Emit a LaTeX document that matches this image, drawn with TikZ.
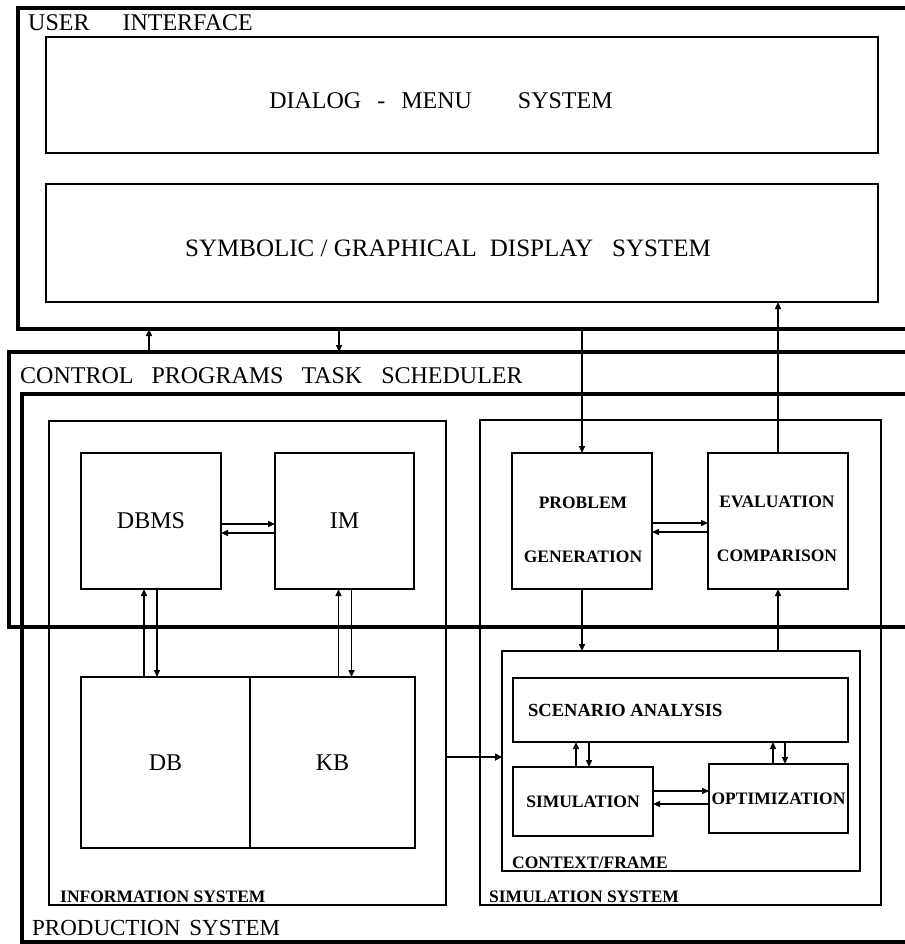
\documentclass[tikz,border=0pt]{standalone}
\usepackage{fontspec}
\setmainfont{Liberation Serif}
\usetikzlibrary{arrows.meta}
\begin{document}
\begin{tikzpicture}[x=1pt,y=-1pt,
  box/.style={draw, rectangle, inner sep=0pt, outer sep=0pt},
  heavy/.style={box, line width=3.4pt},
  mid/.style={box, line width=2.3pt},
  light/.style={box, line width=1.7pt},
  title/.style={inner sep=0pt, font=\fontsize{24}{28}\selectfont},
  blabel/.style={inner sep=0pt, font=\fontsize{17.5}{20}\selectfont\bfseries},
  arr/.style={-{Triangle[length=7pt,width=6pt]}, line width=1.4pt},
  thickarr/.style={-{Triangle[length=7pt,width=7pt]}, line width=2.8pt}
]
\useasboundingbox (0,0) rectangle (904,944);
\fill[white] (0,0) rectangle (904,944);

% user interface
\node[heavy, minimum width=897pt, minimum height=321pt] (ui) at (466.5,168.5) {};
\node[mid, minimum width=832pt, minimum height=116pt] (dialog) at (462,95) {};
\node[mid, minimum width=832pt, minimum height=118pt] (symb) at (462,243) {};
\node[title, anchor=base west] (uitxt) at (28,31) {USER\hspace{33pt}INTERFACE};
\node[title] (dialogtxt) at (441,101) {DIALOG\hspace{16pt}-\hspace{16pt}MENU\hspace{46pt}SYSTEM};
\node[title, font=\fontsize{25}{29}\selectfont] (symbtxt) at (448,248) {SYMBOLIC / GRAPHICAL\hspace{13pt}DISPLAY\hspace{19pt}SYSTEM};

% control and production
\node[heavy, minimum width=906pt, minimum height=275pt] (control) at (462,489.5) {};
\node[heavy, minimum width=893pt, minimum height=548pt] (prod) at (468.5,668) {};
\node[title, anchor=base west] (ctrltxt) at (20,383) {CONTROL\hspace{18pt}PROGRAMS\hspace{18pt}TASK\hspace{19pt}SCHEDULER};
\node[title, font=\fontsize{23}{27}\selectfont, anchor=base west] (prodtxt) at (32,935) {PRODUCTION\hspace{9pt}SYSTEM};

% information system
\node[light, minimum width=397pt, minimum height=484pt] (info) at (247.5,663) {};
\node[blabel, anchor=base west] (infotxt) at (60,902) {INFORMATION SYSTEM};
\node[mid, minimum width=140pt, minimum height=136pt, font=\fontsize{24}{28}\selectfont] (dbms) at (151,521) {DBMS};
\node[mid, minimum width=139pt, minimum height=136pt, font=\fontsize{24}{28}\selectfont] (im) at (344.5,521) {IM};
\node[box, draw=none, minimum width=169pt, minimum height=171pt, font=\fontsize{24}{28}\selectfont] (db) at (165.5,762.5) {DB};
\node[box, draw=none, minimum width=165pt, minimum height=171pt, font=\fontsize{24}{28}\selectfont] (kb) at (332.5,762.5) {KB};
\draw[line width=2.3pt] (db.north west) rectangle (kb.south east);
\draw[line width=1.5pt] (db.north east) -- (db.south east);

% simulation system
\node[light, minimum width=401pt, minimum height=485pt] (simsys) at (680.5,662.5) {};
\node[blabel, anchor=base west] (simsystxt) at (489,902) {SIMULATION SYSTEM};
\node[mid, minimum width=140pt, minimum height=136pt] (problem) at (582,521) {};
\node[mid, minimum width=140pt, minimum height=136pt] (eval) at (778,521) {};
\node[blabel, align=center] (problemtxt) at (583,530) {PROBLEM\\[34pt]GENERATION};
\node[blabel, align=center] (evaltxt) at (777,529) {EVALUATION\\[34pt]COMPARISON};
\node[mid, minimum width=358pt, minimum height=220pt] (context) at (681,761) {};
\node[blabel, anchor=base west] (contexttxt) at (512,868) {CONTEXT/FRAME};
\node[mid, minimum width=335pt, minimum height=64pt] (scen) at (680.5,710) {};
\node[blabel, font=\fontsize{18.5}{21}\selectfont\bfseries, anchor=base west] (scentxt) at (528,716) {SCENARIO ANALYSIS};
\node[mid, minimum width=140pt, minimum height=69pt, blabel] (sim) at (583,801.5) {SIMULATION};
\node[mid, minimum width=139pt, minimum height=69pt, blabel] (opt) at (778.5,798.5) {OPTIMIZATION};

% connectors between UI and control
\coordinate (upA) at (149,0);
\coordinate (downA) at (339,0);
\draw[arr] (upA |- control.north) -- (upA |- ui.south);
\draw[arr] (downA |- ui.south) -- (downA |- control.north);
\draw[arr] (problem.north |- ui.south) -- (problem.north);
\draw[arr] (eval.north) -- (eval.north |- symb.south);

% DBMS <-> IM, problem <-> eval
\draw[arr] ([yshift=-3pt]dbms.east) -- ([yshift=-3pt]im.west);
\draw[arr] ([yshift=-12pt]im.west) -- ([yshift=-12pt]dbms.east);
\draw[arr] ([yshift=-2pt]problem.east) -- ([yshift=-2pt]eval.west);
\draw[arr] ([yshift=-11pt]eval.west) -- ([yshift=-11pt]problem.east);

% DBMS <-> DB, IM <-> KB
\draw[arr] ([xshift=-7pt]dbms.south |- db.north) -- ([xshift=-7pt]dbms.south);
\draw[arr] ([xshift=6pt]dbms.south) -- ([xshift=6pt]dbms.south |- db.north);
\draw[arr] ([xshift=-6pt]im.south |- kb.north) -- ([xshift=-6pt]im.south);
\draw[arr] ([xshift=7pt]im.south) -- ([xshift=7pt]im.south |- kb.north);

% problem -> context -> eval
\draw[arr] (problem.south) -- (problem.south |- context.north);
\draw[arr] (eval.south |- context.north) -- (eval.south);

% info -> context
\draw[thickarr] ([yshift=5.5pt]info.east |- kb.east) -- ([yshift=5.5pt]context.west |- kb.east);

% scenario <-> sim / opt
\draw[arr] ([xshift=-7pt]sim.north) -- ([xshift=-7pt]sim.north |- scen.south);
\draw[arr] ([xshift=6pt]sim.north |- scen.south) -- ([xshift=6pt]sim.north);
\draw[arr] ([xshift=-5.5pt]opt.north) -- ([xshift=-5.5pt]opt.north |- scen.south);
\draw[arr] ([xshift=6.5pt]opt.north |- scen.south) -- ([xshift=6.5pt]opt.north);

% sim <-> opt
\draw[arr] ([yshift=10.5pt]sim.east) -- ([yshift=10.5pt]sim.east -| opt.west);
\draw[arr] ([yshift=-2.5pt]sim.east -| opt.west) -- ([yshift=-2.5pt]sim.east);
\end{tikzpicture}
\end{document}
